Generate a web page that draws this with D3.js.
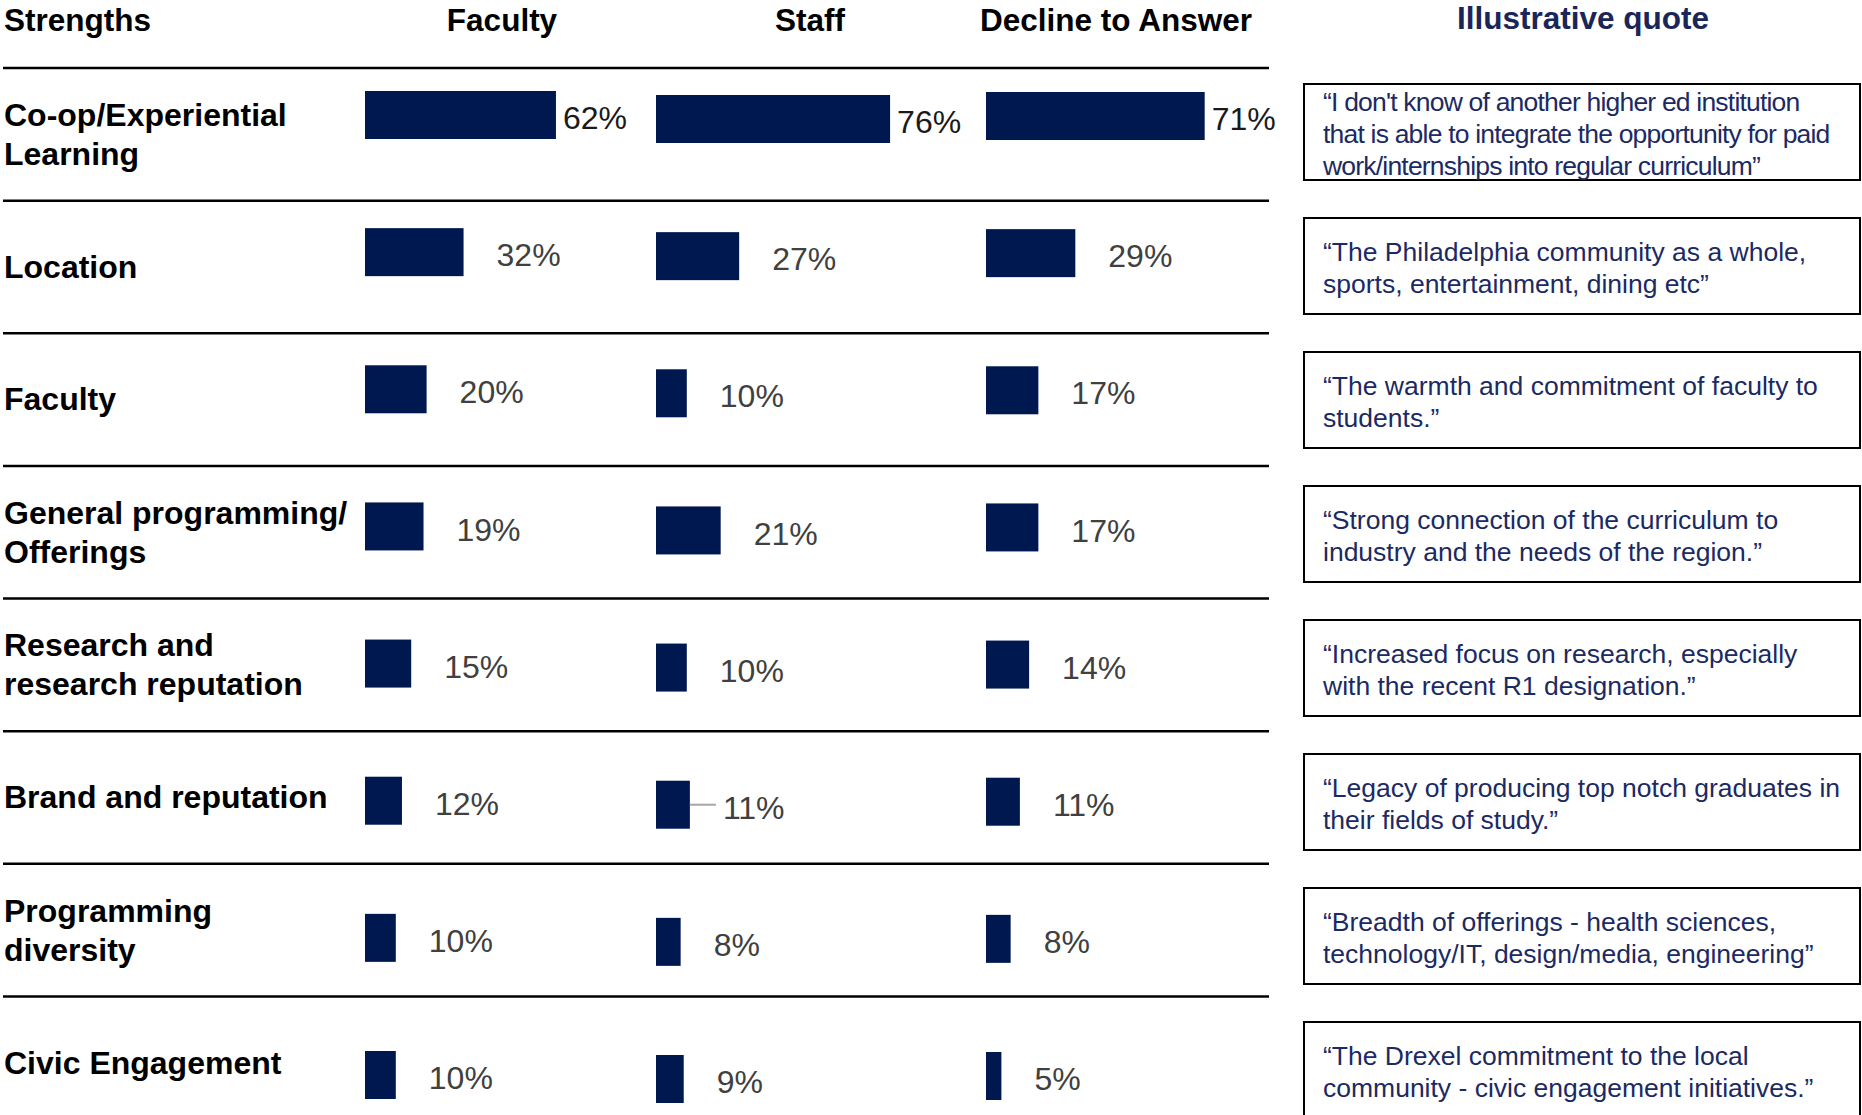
<!DOCTYPE html>
<html>
<head>
<meta charset="utf-8">
<script src="https://cdn.jsdelivr.net/npm/d3@7"></script>
<style>
  body { margin: 0; background: #fff; }
  svg { display: block; font-family: "Liberation Sans", Arial, sans-serif; }
</style>
</head>
<body>
<div id="chart"></div>
<script>
const categories = [
  "Co-op/Experiential\nLearning",
  "Location",
  "Faculty",
  "General programming/\nOfferings",
  "Research and\nresearch reputation",
  "Brand and reputation",
  "Programming\ndiversity",
  "Civic Engagement"
];
const groups = ["Faculty", "Staff", "Decline to Answer"];
const faculty = [62, 32, 20, 19, 15, 12, 10, 10];
const staff = [76, 27, 10, 21, 10, 11, 8, 9];
const decline = [71, 29, 17, 17, 14, 11, 8, 5];
const quotes = [
  "\u201cI don't know of another higher ed institution\nthat is able to integrate the opportunity for paid\nwork/internships into regular curriculum\u201d",
  "\u201cThe Philadelphia community as a whole,\nsports, entertainment, dining etc\u201d",
  "\u201cThe warmth and commitment of faculty to\nstudents.\u201d",
  "\u201cStrong connection of the curriculum to\nindustry and the needs of the region.\u201d",
  "\u201cIncreased focus on research, especially\nwith the recent R1 designation.\u201d",
  "\u201cLegacy of producing top notch graduates in\ntheir fields of study.\u201d",
  "\u201cBreadth of offerings - health sciences,\ntechnology/IT, design/media, engineering\u201d",
  "\u201cThe Drexel commitment to the local\ncommunity - civic engagement initiatives.\u201d"
];

const width = 1862, height = 1115;
const navy = "#001850";
const quoteColor = "#1b2a63";

const series = [faculty, staff, decline];
const groupX = [365, 656, 986];      // left edge of each bar column
const groupHeadX = [502, 810, 1116]; // header centres
const groupDy = [0, 4, 1];

const svg = d3.select("#chart").append("svg")
  .attr("width", width)
  .attr("height", height);

const x = d3.scaleLinear().domain([0, 100]).range([0, 308]);

// separator lines and row label bands
const lineY = d3.scaleLinear().domain([0, 7]).range([68, 996.5]);
const labelY = i => lineY(i) + 66;
// bar centres drift a little lower than the bands
const barY = d3.scalePoint().domain(d3.range(categories.length)).range([115, 1075]);
const barH = 48;
const boxY = d3.scaleLinear().domain([0, 7]).range([84, 1022]);
const boxH = 96;

// headers
svg.append("text")
  .attr("x", 4).attr("y", 20).attr("dy", "0.35em")
  .style("font-size", "31.5px").style("font-weight", "bold")
  .text("Strengths");

svg.selectAll(".ghead")
  .data(groups)
  .join("text")
  .attr("x", (d, i) => groupHeadX[i]).attr("y", 20).attr("dy", "0.35em")
  .attr("text-anchor", "middle")
  .style("font-size", "31.5px").style("font-weight", "bold")
  .text(d => d);

svg.append("text")
  .attr("x", 1583).attr("y", 18).attr("dy", "0.35em")
  .attr("text-anchor", "middle")
  .style("font-size", "31.5px").style("font-weight", "bold")
  .attr("fill", "#1a2659")
  .text("Illustrative quote");

// separators
svg.selectAll(".sep")
  .data(d3.range(8))
  .join("line")
  .attr("x1", 3).attr("x2", 1269)
  .attr("y1", d => lineY(d)).attr("y2", d => lineY(d))
  .attr("stroke", "#000").attr("stroke-width", 2.5);

// row labels
const rows = svg.selectAll(".rowlabel")
  .data(categories)
  .join("text")
  .attr("x", 4)
  .style("font-size", "32px").style("font-weight", "bold");

rows.each(function(d, i) {
  const parts = d.split("\n");
  const lh = 39;
  const y0 = labelY(i) - (parts.length - 1) * lh / 2;
  d3.select(this).selectAll("tspan")
    .data(parts)
    .join("tspan")
    .attr("x", 4)
    .attr("y", (p, j) => y0 + j * lh)
    .attr("dy", "0.35em")
    .text(p => p);
});

// bars and value labels
series.forEach((values, g) => {
  const gx = groupX[g];
  svg.selectAll(".bar" + g)
    .data(values)
    .join("rect")
    .attr("x", gx)
    .attr("y", (d, i) => barY(i) + groupDy[g] - barH / 2)
    .attr("width", d => x(d))
    .attr("height", barH)
    .attr("fill", navy);

  svg.selectAll(".val" + g)
    .data(values)
    .join("text")
    .attr("x", d => gx + x(d) + (d > 50 ? 7 : 33))
    .attr("y", (d, i) => barY(i) + groupDy[g] + 3)
    .attr("dy", "0.35em")
    .style("font-size", "32px")
    .attr("fill", d => d > 50 ? "#1a1a1a" : "#404040")
    .text(d => d + "%");
});

// leader line on the Staff / Brand and reputation label
{
  const i = 5, d = staff[i];
  const y = barY(i) + groupDy[1];
  svg.append("line")
    .attr("x1", groupX[1] + x(d)).attr("x2", groupX[1] + x(d) + 26)
    .attr("y1", y).attr("y2", y)
    .attr("stroke", "#a6a6a6").attr("stroke-width", 2);
}

// quote boxes
const qg = svg.selectAll(".quote")
  .data(quotes)
  .join("g")
  .attr("transform", (d, i) => `translate(1304,${boxY(i)})`);

qg.append("rect")
  .attr("width", 556).attr("height", boxH)
  .attr("fill", "none").attr("stroke", "#000").attr("stroke-width", 2);

qg.append("text")
  .style("font-size", "26.5px")
  .attr("fill", quoteColor)
  .attr("letter-spacing", (d, i) => i === 0 ? "-0.8px" : null)
  .each(function(d) {
    const parts = d.split("\n");
    const lh = 32;
    const y0 = boxH / 2 + 2 - (parts.length - 1) * lh / 2;
    d3.select(this).selectAll("tspan")
      .data(parts)
      .join("tspan")
      .attr("x", 19)
      .attr("y", (p, j) => y0 + j * lh)
      .attr("dy", "0.35em")
      .text(p => p);
  });
</script>
</body>
</html>
